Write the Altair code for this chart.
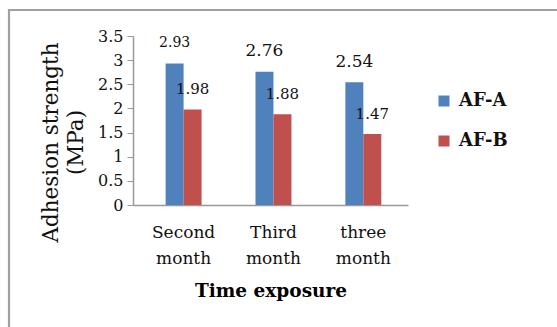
import altair as alt
import pandas as pd

categories = ["Second month", "Third month", "three month"]
series = ["AF-A", "AF-B"]
af_a = [2.93, 2.76, 2.54]
af_b = [1.98, 1.88, 1.47]
y_ticks = [0, 0.5, 1, 1.5, 2, 2.5, 3, 3.5]

rows = []
for c, a, b in zip(categories, af_a, af_b):
    rows.append({"category": c, "series": "AF-A", "value": a})
    rows.append({"category": c, "series": "AF-B", "value": b})
df = pd.DataFrame(rows)

FONT = "DejaVu Serif"

x_axis = alt.Axis(
    title="Time exposure",
    labelAngle=0,
    labelExpr="split(datum.label, ' ')",
    labelFont=FONT,
    labelFontSize=17,
    labelLineHeight=26,
    labelColor="#111",
    labelPadding=19,
    ticks=False,
    domainColor="#999",
    domainWidth=1.5,
    titleFont=FONT,
    titleFontSize=18.5,
    titleFontWeight="bold",
    titleColor="#000",
    titlePadding=15,
)
y_axis = alt.Axis(
    values=y_ticks,
    format="~g",
    labelOverlap=False,
    title=["Adhesion strength", "(MPa)"],
    titleFont=FONT,
    titleFontSize=21.5,
    titleFontWeight="normal",
    titleColor="#111",
    titleLineHeight=25,
    titleX=-71,
    titleY=106,
    titleAlign="center",
    labelFont=FONT,
    labelFontSize=16,
    labelColor="#111",
    labelPadding=4,
    tickSize=6,
    tickColor="#999",
    domainColor="#999",
    domainWidth=1.5,
    grid=False,
)
x_scale = alt.Scale(paddingInner=0.6, paddingOuter=0.33, align=0.55)
y_scale = alt.Scale(domain=[0, 3.5])

x_enc = alt.X("category:N", sort=categories, scale=x_scale, axis=x_axis)
y_enc = alt.Y("value:Q", scale=y_scale, axis=y_axis)
xoff = alt.XOffset("series:N", sort=series, scale=alt.Scale(paddingInner=0))

bars = alt.Chart(df).mark_bar().encode(
    x=x_enc,
    xOffset=xoff,
    y=y_enc,
    color=alt.Color(
        "series:N",
        sort=series,
        scale=alt.Scale(domain=series, range=["#4F81BD", "#C0504D"]),
        legend=alt.Legend(
            title=None,
            orient="none",
            legendX=302,
            legendY=56,
            symbolType="square",
            symbolSize=121,
            symbolStrokeWidth=0,
            labelFont=FONT,
            labelFontSize=18,
            labelFontWeight="bold",
            labelColor="#111",
            rowPadding=22,
            labelOffset=6,
        ),
    ),
)

labels_a = alt.Chart(df).transform_filter("datum.series == 'AF-A'").mark_text(
    font=FONT, dy=-20.5, baseline="middle", color="#111"
).encode(
    x=x_enc,
    xOffset=xoff,
    y=y_enc,
    text=alt.Text("value:Q", format=".2f"),
    size=alt.condition("datum.category == 'Second month'", alt.value(14), alt.value(17)),
)

labels_b = alt.Chart(df).transform_filter("datum.series == 'AF-B'").mark_text(
    font=FONT, dy=-20.5, baseline="middle", color="#111", fontSize=15
).encode(
    x=x_enc,
    xOffset=xoff,
    y=y_enc,
    text=alt.Text("value:Q", format=".2f"),
)

frame = alt.Chart(pd.DataFrame({"f": [0]})).mark_rect(
    fill=None, stroke="#a0a0a0", strokeWidth=2.2
).encode(
    x=alt.value(-124), x2=alt.value(700), y=alt.value(-26), y2=alt.value(400)
)

chart = alt.layer(frame, bars, labels_a, labels_b).properties(
    width=275,
    height=169,
    autosize=alt.AutoSizeParams(type="none"),
    padding={"left": 133, "top": 36, "right": 149, "bottom": 122},
    background="white",
).configure_view(stroke=None)

chart.save("out.html", embed_options={"renderer": "svg", "actions": False})
